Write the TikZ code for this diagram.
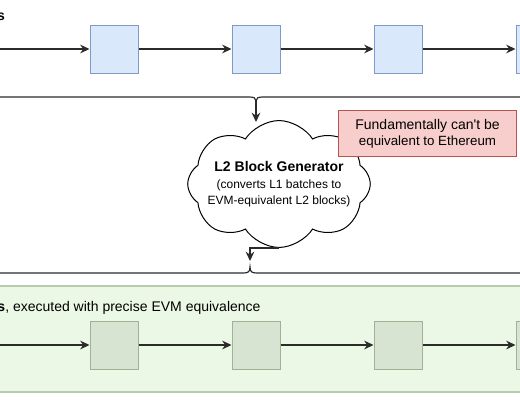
\documentclass[tikz,border=0pt]{standalone}
\usepackage{fontspec}
\setmainfont{Liberation Sans}
\usetikzlibrary{shapes.symbols,arrows.meta}
\definecolor{blockblue}{HTML}{DAE8FC}
\definecolor{blueline}{HTML}{7F9AC6}
\definecolor{blockgreen}{HTML}{D7E4D1}
\definecolor{greenline}{HTML}{9DB394}
\definecolor{panelgreen}{HTML}{EBF8E6}
\definecolor{panelline}{HTML}{B7CBAF}
\definecolor{notered}{HTML}{F8CECC}
\definecolor{noteline}{HTML}{B85450}
\definecolor{wire}{HTML}{2B2B2B}
\begin{document}
\begin{tikzpicture}[x=0.75pt, y=-0.75pt,
	arr/.style={-{Stealth[length=7pt,width=6.5pt]}, line width=0.9pt, draw=wire},
	brace/.style={line width=0.9pt, draw=wire},
	blk/.style={rectangle, minimum size=36pt, inner sep=0pt, line width=0.75pt}]
			\useasboundingbox (0,0) rectangle (520,400);
			%L2 panel
			\fill[panelgreen, draw=panelline, line width=0.9pt] (-5,286) rectangle (525,392);
			
			%block rows
			\foreach \i/\x in {1/114, 2/256, 3/398, 4/540}{
				\node[blk, fill=blockblue, draw=blueline] (b\i) at (\x, 49) {};
				\node[blk, fill=blockgreen, draw=greenline] (g\i) at (\x, 345) {};
			}
			\coordinate (bstart) at (-2, 49);
			\coordinate (gstart) at (-2, 345);
			\draw[arr] (bstart) -- (b1);
			\draw[arr] (gstart) -- (g1);
			\foreach \i/\j in {1/2, 2/3, 3/4}{
				\draw[arr] (b\i) -- (b\j);
				\draw[arr] (g\i) -- (g\j);
			}
			
			%labels
			\node[anchor=base east, inner sep=0pt] (ltop) at (5.2, 20)
				{\fontsize{10.5}{12}\selectfont\bfseries s};
			\node[anchor=base west, inner sep=0pt] (lbot) at (-2.8, 311)
				{\fontsize{10.5}{12}\selectfont\textbf{s}, executed with precise EVM equivalence};
			
			%braces
			\coordinate (toptip) at (256, 101);
			\coordinate (bottip) at (250, 267);
			\draw[brace] (-5, 97) -- (249, 97) .. controls (254, 97) and (256, 98) .. (toptip)
				.. controls (256, 98) and (258, 97) .. (263, 97) -- (525, 97);
			\draw[brace] (-5, 273) -- (243, 273) .. controls (248, 273) and (250, 272) .. (bottip)
				.. controls (250, 272) and (252, 273) .. (257, 273) -- (525, 273);
			
			%generator
			\node[cloud, draw=black, fill=white, line width=0.75pt, cloud puffs=8, cloud puff arc=115,
				aspect=1.8, inner sep=-7pt, align=center]
				(gen) at (279, 184)
				{\fontsize{10.5}{13}\selectfont\bfseries L2 Block Generator\\[1pt]
				 \fontsize{9}{13}\selectfont(converts L1 batches to\\
				 \fontsize{9}{13}\selectfont EVM-equivalent L2 blocks)};
			\coordinate (genin) at (256, 122);
			\coordinate (botin) at (250, 261);
			\draw[arr] (toptip) -- (genin);
			\draw[arr] (gen.south) -| (botin);
			
			%note
			\node[rectangle, fill=notered, draw=noteline, line width=0.75pt, minimum width=134pt,
				minimum height=35pt, inner sep=0pt, align=center] (note) at (427.5, 133.5)
				{\fontsize{10.5}{12}\selectfont Fundamentally can\textquotesingle t be\\equivalent to Ethereum};
		\end{tikzpicture}
\end{document}
